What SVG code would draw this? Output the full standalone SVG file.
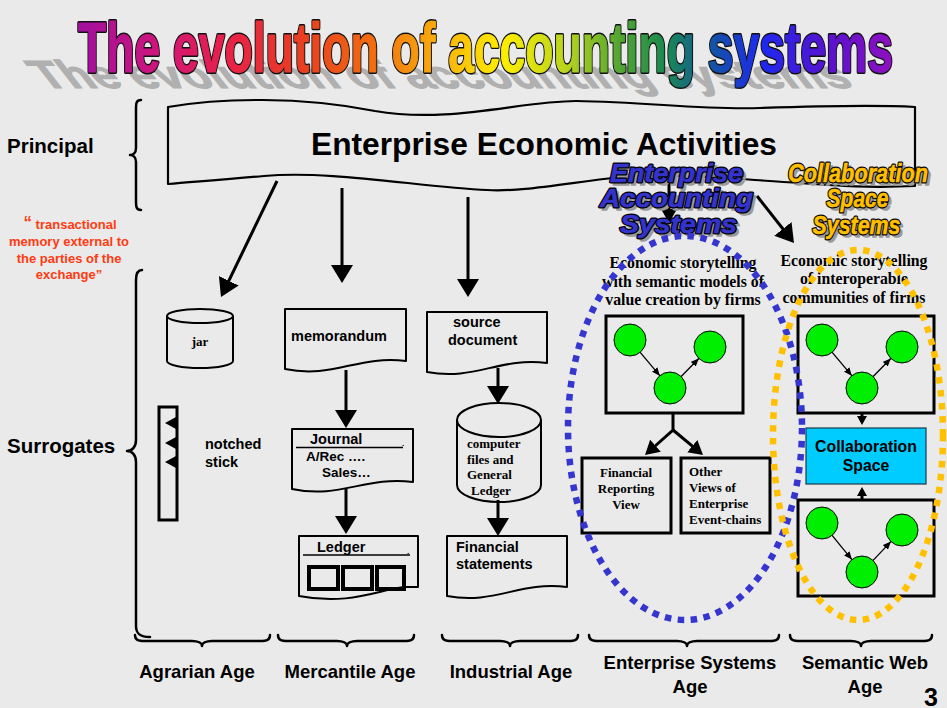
<svg xmlns="http://www.w3.org/2000/svg" width="947" height="708" viewBox="0 0 947 708">
  <defs>
    <linearGradient id="rainbow" gradientUnits="userSpaceOnUse" x1="78" y1="0" x2="893" y2="0">
      <stop offset="0" stop-color="#a0109e"/>
      <stop offset="0.1" stop-color="#d0157c"/>
      <stop offset="0.18" stop-color="#e8204a"/>
      <stop offset="0.28" stop-color="#e84020"/>
      <stop offset="0.36" stop-color="#f26c10"/>
      <stop offset="0.45" stop-color="#f9b40c"/>
      <stop offset="0.52" stop-color="#ffee00"/>
      <stop offset="0.6" stop-color="#b8d41e"/>
      <stop offset="0.66" stop-color="#58a830"/>
      <stop offset="0.72" stop-color="#1a8a50"/>
      <stop offset="0.78" stop-color="#1452a8"/>
      <stop offset="0.84" stop-color="#1e28ee"/>
      <stop offset="0.92" stop-color="#5812d0"/>
      <stop offset="1" stop-color="#9010c0"/>
    </linearGradient>
    <marker id="ah" markerUnits="userSpaceOnUse" markerWidth="18" markerHeight="22" viewBox="0 0 18 22" refX="12" refY="11" orient="auto">
      <path d="M0,0 L18,11 L0,22 Z" fill="#000"/>
    </marker>
    <marker id="am" markerUnits="userSpaceOnUse" markerWidth="14" markerHeight="16" viewBox="0 0 14 16" refX="8" refY="8" orient="auto">
      <path d="M0,0 L14,8 L0,16 Z" fill="#000"/>
    </marker>
    <marker id="as" markerUnits="userSpaceOnUse" markerWidth="8" markerHeight="7" viewBox="0 0 8 7" refX="8" refY="3.5" orient="auto">
      <path d="M0,0 L8,3.5 L0,7 Z" fill="#000"/>
    </marker>
    <marker id="av" markerUnits="userSpaceOnUse" markerWidth="9" markerHeight="10" viewBox="0 0 9 10" refX="6" refY="5" orient="auto">
      <path d="M0,0 L9,5 L0,10 Z" fill="#000"/>
    </marker>
  </defs>
  <style>
    .sans { font-family: "Liberation Sans", Arial, sans-serif; font-weight: bold; }
    .serif { font-family: "Liberation Serif", "Times New Roman", serif; font-weight: bold; }
    .headline { font-family: "Liberation Sans Narrow", "Liberation Sans", Arial, sans-serif; font-weight: bold; font-size: 71px; }
    .shape { fill: none; stroke: #000; stroke-width: 2; stroke-linejoin: round; }
    .box { fill: none; stroke: #000; stroke-width: 3; }
    .brace { fill: none; stroke: #000; stroke-width: 2.5; stroke-linecap: round; stroke-linejoin: round; }
    .node { fill: #00ee00; stroke: #000; stroke-width: 1; }
    .edge { fill: none; stroke: #000; stroke-width: 3; }
    .thin { fill: none; stroke: #000; stroke-width: 1.3; }
    .lbl { font-size: 14.5px; fill: #000; }
    .tag { font-family: "Liberation Sans", Arial, sans-serif; font-weight: bold; font-style: italic; font-size: 26px; text-anchor: middle; }
    .age { font-size: 18.5px; text-anchor: middle; fill: #000; }
  </style>

  <rect width="947" height="708" fill="#eaeaea"/>

  <!-- title with cast shadow -->
  <g id="title">
    <text class="headline" transform="translate(44,88) skewX(38) scale(1,0.55)" x="0" y="0" textLength="812" lengthAdjust="spacingAndGlyphs" fill="#b0b0b0" stroke="#b0b0b0" stroke-width="2">The evolution of accounting systems</text>
    <text class="headline" x="78" y="72" textLength="815" lengthAdjust="spacingAndGlyphs" fill="none" stroke="#111" stroke-width="4" stroke-linejoin="round">The evolution of accounting systems</text>
    <text class="headline" x="78" y="72" textLength="815" lengthAdjust="spacingAndGlyphs" fill="url(#rainbow)" stroke="url(#rainbow)" stroke-width="1.2" stroke-linejoin="round">The evolution of accounting systems</text>
  </g>

  <!-- row labels and braces -->
  <g id="principal">
    <text class="sans" x="7" y="153" font-size="20.5">Principal</text>
    <path class="brace" d="M141,100 C136,100 136,104 136,108 L136,148 C136,153 133,155 130,155 C133,155 136,157 136,162 L136,202 C136,206 136,210 141,210"/>
  </g>
  <g id="memory-note" class="sans" font-size="13" fill="#ff3a12" text-anchor="middle">
    <text x="70" y="229"><tspan font-size="17" dy="-1">“</tspan><tspan dy="1"> transactional</tspan></text>
    <text x="69" y="246">memory external to</text>
    <text x="69" y="263">the parties of the</text>
    <text x="69" y="279">exchange”</text>
  </g>
  <g id="surrogates">
    <text class="sans" x="7" y="453" font-size="20.5">Surrogates</text>
    <path class="brace" d="M142,270 C137,270 136,275 136,280 L136,440 C136,447 132,451 127,451 C132,451 136,455 136,462 L136,626 C136,633 139,637 150,637"/>
  </g>

  <!-- principal banner -->
  <g id="banner">
    <path d="M168,107 C220,98 300,96 375,111 C450,124 520,101 576,101 C650,102 700,110 760,108 C820,106 880,105 915,107 L915,186 C870,188 840,186 800,183 C720,178 660,172 620,177 C560,184 520,192 487,190 C420,187 330,170 264,176 C220,180 190,182 168,184 Z" fill="none" stroke="#000" stroke-width="2.2" stroke-linejoin="round"/>
    <text class="sans" x="311" y="155" font-size="31" textLength="466" lengthAdjust="spacingAndGlyphs">Enterprise Economic Activities</text>
  </g>

  <!-- connectors -->
  <g id="connectors">
    <line class="edge" x1="277" y1="181" x2="223.6" y2="291.6" marker-end="url(#ah)"/>
    <line class="edge" x1="342" y1="188" x2="342" y2="277" marker-end="url(#ah)"/>
    <line class="edge" x1="468" y1="197" x2="468" y2="291" marker-end="url(#ah)"/>
    <line class="edge" x1="669" y1="178" x2="669" y2="217" marker-end="url(#am)"/>
    <line class="edge" x1="757" y1="196" x2="790.3" y2="238.3" marker-end="url(#ah)"/>
    <line class="edge" x1="346" y1="370" x2="346" y2="422" marker-end="url(#ah)"/>
    <line class="edge" x1="346" y1="489" x2="346" y2="528" marker-end="url(#ah)"/>
    <line class="edge" x1="498" y1="368" x2="498" y2="398" marker-end="url(#ah)"/>
    <line class="edge" x1="498" y1="500" x2="498" y2="530" marker-end="url(#ah)"/>
    <polyline class="edge" points="673,413 673,430 649.5,451" marker-end="url(#am)"/>
    <line class="edge" x1="673" y1="430" x2="698.4" y2="451.2" marker-end="url(#am)"/>
    <line class="edge" x1="862" y1="413" x2="862" y2="422" stroke-width="2" marker-end="url(#av)"/>
    <line class="edge" x1="862" y1="500" x2="862" y2="490" stroke-width="2" marker-end="url(#av)"/>
  </g>

  <!-- system group labels: drop shadow, black outline, then fill -->
  <g id="enterprise-accounting-label" class="tag">
    <g fill="#9a9a9a" stroke="#9a9a9a" stroke-width="1.5" transform="translate(3,3)">
      <text x="676.5" y="182" textLength="133" lengthAdjust="spacingAndGlyphs">Enterprise</text>
      <text x="676.5" y="207" textLength="153" lengthAdjust="spacingAndGlyphs">Accounting</text>
      <text x="678.5" y="233" textLength="117" lengthAdjust="spacingAndGlyphs">Systems</text>
    </g>
    <g fill="#000" stroke="#000" stroke-width="3" stroke-linejoin="round">
      <text x="676.5" y="182" textLength="133" lengthAdjust="spacingAndGlyphs">Enterprise</text>
      <text x="676.5" y="207" textLength="153" lengthAdjust="spacingAndGlyphs">Accounting</text>
      <text x="678.5" y="233" textLength="117" lengthAdjust="spacingAndGlyphs">Systems</text>
    </g>
    <g fill="#3434cc" stroke="#3434cc" stroke-width="0.6">
      <text x="676.5" y="182" textLength="133" lengthAdjust="spacingAndGlyphs">Enterprise</text>
      <text x="676.5" y="207" textLength="153" lengthAdjust="spacingAndGlyphs">Accounting</text>
      <text x="678.5" y="233" textLength="117" lengthAdjust="spacingAndGlyphs">Systems</text>
    </g>
  </g>
  <g id="collaboration-label" class="tag">
    <g fill="#9a9a9a" stroke="#9a9a9a" stroke-width="1.5" transform="translate(3,3)">
      <text x="858" y="182" textLength="140" lengthAdjust="spacingAndGlyphs">Collaboration</text>
      <text x="857.5" y="207" textLength="62" lengthAdjust="spacingAndGlyphs">Space</text>
      <text x="856.5" y="234" textLength="88" lengthAdjust="spacingAndGlyphs">Systems</text>
    </g>
    <g fill="#000" stroke="#000" stroke-width="3" stroke-linejoin="round">
      <text x="858" y="182" textLength="140" lengthAdjust="spacingAndGlyphs">Collaboration</text>
      <text x="857.5" y="207" textLength="62" lengthAdjust="spacingAndGlyphs">Space</text>
      <text x="856.5" y="234" textLength="88" lengthAdjust="spacingAndGlyphs">Systems</text>
    </g>
    <g fill="#ffc000" stroke="#ffc000" stroke-width="0.6">
      <text x="858" y="182" textLength="140" lengthAdjust="spacingAndGlyphs">Collaboration</text>
      <text x="857.5" y="207" textLength="62" lengthAdjust="spacingAndGlyphs">Space</text>
      <text x="856.5" y="234" textLength="88" lengthAdjust="spacingAndGlyphs">Systems</text>
    </g>
  </g>

  <!-- agrarian age -->
  <g id="jar">
    <path class="shape" d="M167,316 A33,7 0 0 1 233,316 A33,7 0 0 1 167,316 Z M167,316 V361 A33,7 0 0 0 233,361 V316"/>
    <text class="serif" x="200" y="346" font-size="13" text-anchor="middle">jar</text>
  </g>
  <g id="notched-stick">
    <rect x="159" y="407" width="18" height="113" fill="none" stroke="#000" stroke-width="3"/>
    <path d="M176,417 L165,423 L176,429 Z M176,437 L165,443 L176,449 Z M176,456 L165,462 L176,468 Z" fill="#000"/>
    <text class="sans lbl" x="205" y="449">notched</text>
    <text class="sans lbl" x="205" y="467">stick</text>
  </g>

  <!-- mercantile age -->
  <g id="memorandum">
    <path class="shape" d="M285,309 H406 V361 C358,355 333,379 285,369 Z"/>
    <text class="sans lbl" x="291" y="341">memorandum</text>
  </g>
  <g id="journal">
    <path class="shape" d="M292,429 H413 V482 C365,476 340,499 292,489 Z"/>
    <text class="sans lbl" x="310" y="444">Journal</text>
    <line x1="296" y1="447.5" x2="403" y2="447.5" stroke="#000" stroke-width="1.6"/>
    <text class="sans" x="402" y="446" font-size="8">.</text>
    <text class="sans" x="306" y="461" font-size="13.5">A/Rec ….</text>
    <text class="sans" x="322" y="477" font-size="13.5">Sales…</text>
  </g>
  <g id="ledger">
    <path class="shape" d="M299,536 H418 V587 H405 C380,589 350,606 299,596 Z"/>
    <text class="sans lbl" x="317" y="552">Ledger</text>
    <line x1="303" y1="555" x2="410" y2="555" stroke="#000" stroke-width="1.6"/>
    <text class="sans" x="407" y="554" font-size="8">.</text>
    <g fill="none" stroke="#000" stroke-width="4">
      <rect x="309" y="567" width="29" height="22"/>
      <rect x="343" y="567" width="29" height="22"/>
      <rect x="377" y="567" width="27" height="22"/>
    </g>
  </g>

  <!-- industrial age -->
  <g id="source-document">
    <path class="shape" d="M427,312 H547 V363 C499,357 475,381 427,372 Z"/>
    <text class="sans lbl" x="453" y="327">source</text>
    <text class="sans lbl" x="448" y="345">document</text>
  </g>
  <g id="computer-files">
    <path class="shape" d="M457,420 A42,17 0 0 1 541,420 A42,17 0 0 1 457,420 Z M457,420 V485 A42,17 0 0 0 541,485 V420"/>
    <g class="serif" font-size="13">
      <text x="467" y="448">computer</text>
      <text x="467" y="464">files and</text>
      <text x="467" y="479">General</text>
      <text x="471" y="495">Ledger</text>
    </g>
  </g>
  <g id="financial-statements">
    <path class="shape" d="M447,536 H567 V587 C519,581 495,605 447,596 Z"/>
    <text class="sans lbl" x="456" y="552">Financial</text>
    <text class="sans lbl" x="456" y="569">statements</text>
  </g>

  <!-- enterprise systems age -->
  <g id="enterprise-story" class="serif" font-size="15.8" text-anchor="middle">
    <text x="683" y="268">Economic storytelling</text>
    <text x="683" y="287">with semantic models of</text>
    <text x="683" y="305">value creation by firms</text>
  </g>
  <g id="enterprise-model">
    <rect class="box" x="606" y="316" width="137" height="97"/>
    <circle class="node" cx="630" cy="340" r="16"/>
    <circle class="node" cx="710" cy="347" r="16"/>
    <circle class="node" cx="670" cy="388" r="16"/>
    <line class="thin" x1="640.2" y1="352.3" x2="659.8" y2="375.7" marker-end="url(#as)"/>
    <line class="thin" x1="681.2" y1="376.5" x2="698.8" y2="358.5" marker-end="url(#as)"/>
  </g>
  <g id="financial-reporting-view">
    <rect class="box" x="582" y="458" width="89" height="75"/>
    <g class="serif" font-size="13" text-anchor="middle">
      <text x="626" y="477">Financial</text>
      <text x="626" y="493">Reporting</text>
      <text x="626" y="509">View</text>
    </g>
  </g>
  <g id="other-views">
    <rect class="box" x="681" y="458" width="89" height="75"/>
    <g class="serif" font-size="13">
      <text x="689" y="476">Other</text>
      <text x="689" y="492">Views of</text>
      <text x="689" y="508">Enterprise</text>
      <text x="689" y="524">Event-chains</text>
    </g>
  </g>

  <!-- semantic web age -->
  <g id="semantic-story" class="serif" font-size="15.8" text-anchor="middle">
    <text x="854" y="266">Economic storytelling</text>
    <text x="854" y="284">of interoperable</text>
    <text x="854" y="303">communities of firms</text>
  </g>
  <g id="firm-model-top">
    <rect class="box" x="798" y="316" width="136" height="97"/>
    <circle class="node" cx="822" cy="340" r="16"/>
    <circle class="node" cx="902" cy="347" r="16"/>
    <circle class="node" cx="862" cy="388" r="16"/>
    <line class="thin" x1="832.2" y1="352.3" x2="851.8" y2="375.7" marker-end="url(#as)"/>
    <line class="thin" x1="873.2" y1="376.5" x2="890.8" y2="358.5" marker-end="url(#as)"/>
  </g>
  <g id="collaboration-space">
    <rect x="806" y="428" width="120" height="56" fill="#00ccff" stroke="#1a3a4a" stroke-width="1.2"/>
    <text class="sans" x="866" y="452" font-size="15.8" text-anchor="middle">Collaboration</text>
    <text class="sans" x="866" y="471" font-size="15.8" text-anchor="middle">Space</text>
  </g>
  <g id="firm-model-bottom">
    <rect class="box" x="798" y="500" width="136" height="96"/>
    <circle class="node" cx="822" cy="523" r="16"/>
    <circle class="node" cx="902" cy="530" r="16"/>
    <circle class="node" cx="862" cy="572" r="16"/>
    <line class="thin" x1="832.1" y1="535.4" x2="851.9" y2="559.6" marker-end="url(#as)"/>
    <line class="thin" x1="873.1" y1="560.4" x2="890.9" y2="541.6" marker-end="url(#as)"/>
  </g>

  <!-- dotted system boundaries -->
  <g id="boundaries" fill="none" stroke-width="6.5" stroke-dasharray="6.5 6.5">
    <ellipse cx="685" cy="428" rx="117" ry="192" stroke="#3535d0"/>
    <ellipse cx="858" cy="435" rx="85" ry="185" stroke="#ffc000"/>
  </g>

  <!-- age braces and labels -->
  <g id="ages">
    <path class="brace" d="M135,635 C135,640 138,641 145,641 L192,641 C198,641 202,643 202,646 C202,643 206,641 212,641 L260,641 C267,641 270,640 270,635"/>
    <path class="brace" d="M278,635 C278,640 281,641 288,641 L337,641 C343,641 347,643 347,646 C347,643 351,641 357,641 L404,641 C411,641 414,640 414,635"/>
    <path class="brace" d="M442,635 C442,640 445,641 452,641 L500,641 C506,641 510,643 510,646 C510,643 514,641 520,641 L568,641 C575,641 578,640 578,635"/>
    <path class="brace" d="M589,635 C589,640 592,641 599,641 L677,641 C683,641 687,643 687,646 C687,643 691,641 697,641 L769,641 C776,641 779,640 779,635"/>
    <path class="brace" d="M790,635 C790,640 793,641 800,641 L851,641 C857,641 861,643 861,646 C861,643 865,641 871,641 L922,641 C929,641 932,640 932,635"/>
    <text class="sans age" x="197" y="678">Agrarian Age</text>
    <text class="sans age" x="350" y="678">Mercantile Age</text>
    <text class="sans age" x="511" y="678">Industrial Age</text>
    <text class="sans age" x="690" y="669">Enterprise Systems</text>
    <text class="sans age" x="690" y="693">Age</text>
    <text class="sans age" x="865" y="669">Semantic Web</text>
    <text class="sans age" x="865" y="693">Age</text>
    <text class="sans" x="924" y="706" font-size="25">3</text>
  </g>
</svg>
